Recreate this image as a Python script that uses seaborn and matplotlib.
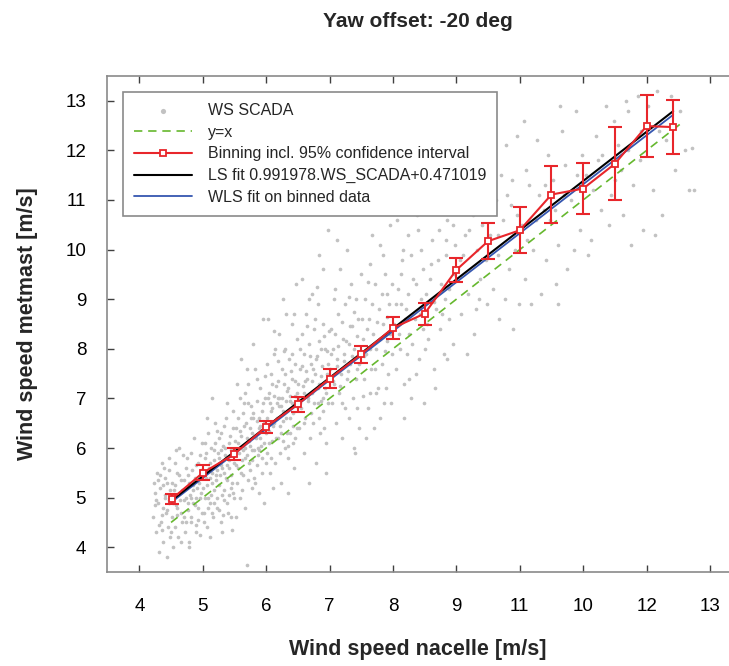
import numpy as np
import pandas as pd
import seaborn as sns
import matplotlib
matplotlib.use("Agg")
import matplotlib.pyplot as plt

# SCADA samples (nacelle ws, metmast ws)
scada_points = [
    (4.22, 4.6), (4.25, 5.1), (4.27, 4.3), (4.28, 5.5), (4.30, 4.9), (4.31, 3.9), (4.33, 5.2), (4.34, 4.5),
    (4.36, 5.7), (4.37, 4.8), (4.38, 4.1), (4.40, 5.0), (4.41, 5.4), (4.42, 4.7), (4.43, 3.8), (4.44, 5.3),
    (4.45, 4.4), (4.46, 5.8), (4.47, 4.95), (4.48, 4.2), (4.49, 5.15), (4.24, 4.85), (4.29, 5.35), (4.35, 4.65),
    (4.39, 5.6), (4.26, 4.95), (4.32, 5.45), (4.36, 4.35), (4.41, 5.05), (4.44, 4.75), (4.47, 5.55),
    (4.23, 5.3), (4.31, 4.45), (4.38, 5.25), (4.46, 4.9),
    (4.51, 4.6), (4.52, 5.3), (4.53, 4.0), (4.55, 5.0), (4.56, 5.7), (4.57, 4.4), (4.58, 4.85), (4.60, 5.5),
    (4.61, 4.2), (4.62, 6.0), (4.63, 5.1), (4.65, 4.7), (4.66, 5.35), (4.68, 4.5), (4.69, 5.85), (4.70, 4.95),
    (4.72, 4.3), (4.73, 5.6), (4.74, 5.2), (4.76, 4.75), (4.77, 5.45), (4.78, 4.1), (4.80, 5.05), (4.81, 5.9),
    (4.82, 4.6), (4.84, 5.25), (4.85, 4.9), (4.86, 6.2), (4.88, 5.4), (4.89, 4.45), (4.90, 5.0), (4.92, 5.7),
    (4.93, 4.8), (4.94, 5.3), (4.96, 4.25), (4.97, 5.55), (4.98, 5.1), (4.99, 6.1), (4.54, 5.15), (4.79, 4.0),
    (4.50, 4.3), (4.53, 4.9), (4.56, 5.25), (4.59, 4.65), (4.62, 5.45), (4.64, 4.95), (4.67, 5.15),
    (4.70, 5.35), (4.71, 4.6), (4.73, 5.0), (4.75, 5.8), (4.77, 4.9), (4.79, 5.3), (4.81, 4.5), (4.83, 5.55),
    (4.85, 5.15), (4.87, 4.85), (4.89, 5.65), (4.91, 5.2), (4.93, 4.55), (4.95, 5.0), (4.97, 5.4),
    (4.99, 4.7), (4.58, 5.95), (4.66, 4.1), (4.74, 4.5), (4.82, 5.0), (4.90, 4.3), (4.96, 5.85), (4.60, 4.8),
    (5.01, 5.2), (5.02, 4.7), (5.04, 5.8), (5.05, 5.4), (5.06, 4.4), (5.08, 6.3), (5.09, 5.0), (5.10, 5.6),
    (5.12, 4.9), (5.13, 6.0), (5.14, 5.3), (5.16, 4.6), (5.17, 5.75), (5.18, 5.15), (5.20, 6.5), (5.21, 5.45),
    (5.22, 4.8), (5.24, 5.9), (5.25, 5.25), (5.26, 6.2), (5.28, 4.5), (5.29, 5.65), (5.30, 5.05), (5.32, 6.05),
    (5.33, 5.5), (5.34, 4.95), (5.36, 5.8), (5.37, 6.6), (5.38, 5.35), (5.40, 4.7), (5.41, 6.1), (5.42, 5.6),
    (5.44, 5.2), (5.45, 5.95), (5.46, 4.35), (5.48, 6.4), (5.49, 5.7), (5.03, 6.1), (5.11, 4.2), (5.23, 5.55),
    (5.31, 4.3), (5.39, 6.9), (5.47, 5.1), (5.15, 7.0), (5.35, 5.85),
    (5.01, 5.5), (5.03, 5.0), (5.05, 5.9), (5.07, 5.25), (5.09, 4.8), (5.11, 5.7), (5.13, 5.05), (5.15, 5.5),
    (5.17, 4.9), (5.19, 6.1), (5.21, 5.35), (5.23, 5.0), (5.25, 5.8), (5.27, 5.45), (5.29, 6.3), (5.31, 5.6),
    (5.33, 5.15), (5.35, 6.0), (5.37, 5.4), (5.39, 4.9), (5.41, 5.75), (5.43, 6.25), (5.45, 5.45),
    (5.47, 5.9), (5.49, 5.0), (5.02, 4.5), (5.06, 6.6), (5.14, 4.7), (5.18, 5.95), (5.26, 4.75), (5.34, 6.45),
    (5.42, 5.05), (5.48, 6.75), (5.12, 5.4), (5.28, 5.95), (5.38, 5.65), (5.44, 4.6), (5.22, 6.35),
    (5.32, 4.65), (5.46, 5.3),
    (5.51, 5.9), (5.52, 6.4), (5.54, 5.3), (5.55, 6.1), (5.56, 5.6), (5.58, 7.0), (5.59, 5.0), (5.60, 6.25),
    (5.62, 5.75), (5.63, 6.7), (5.64, 5.45), (5.66, 6.0), (5.67, 4.8), (5.68, 6.5), (5.69, 3.65), (5.70, 5.85),
    (5.72, 7.3), (5.73, 6.15), (5.74, 5.55), (5.76, 6.85), (5.77, 6.3), (5.78, 5.2), (5.80, 6.6), (5.81, 5.95),
    (5.82, 7.6), (5.84, 6.2), (5.85, 5.65), (5.86, 6.95), (5.88, 6.4), (5.89, 5.1), (5.90, 7.2), (5.92, 6.05),
    (5.93, 6.75), (5.94, 5.8), (5.96, 6.5), (5.97, 4.9), (5.98, 7.45), (5.99, 6.3), (5.53, 4.6), (5.61, 7.8),
    (5.71, 5.35), (5.79, 8.1), (5.87, 6.0), (5.95, 8.6), (5.65, 6.9),
    (5.51, 6.15), (5.53, 5.65), (5.55, 6.6), (5.57, 5.9), (5.59, 6.35), (5.61, 5.5), (5.63, 6.05),
    (5.65, 6.45), (5.67, 5.8), (5.69, 6.2), (5.71, 6.9), (5.73, 5.7), (5.75, 6.4), (5.77, 5.95), (5.79, 6.7),
    (5.81, 5.4), (5.83, 6.25), (5.85, 6.55), (5.87, 5.85), (5.89, 6.6), (5.91, 6.2), (5.93, 5.5), (5.95, 6.9),
    (5.97, 6.1), (5.99, 5.7), (5.54, 7.3), (5.62, 5.15), (5.70, 7.6), (5.78, 5.75), (5.86, 7.4), (5.94, 6.35),
    (5.58, 6.0), (5.66, 7.1), (5.74, 6.05), (5.82, 5.3), (5.90, 6.45), (5.98, 7.0), (5.64, 5.95), (5.76, 6.6),
    (5.88, 5.95),
    (6.01, 6.6), (6.02, 5.9), (6.04, 7.1), (6.05, 6.35), (6.06, 5.5), (6.08, 7.5), (6.09, 6.8), (6.10, 6.15),
    (6.12, 7.9), (6.13, 6.5), (6.14, 5.7), (6.16, 7.25), (6.17, 6.9), (6.18, 6.2), (6.20, 8.3), (6.21, 7.0),
    (6.22, 6.45), (6.24, 5.3), (6.25, 7.6), (6.26, 6.75), (6.28, 7.3), (6.29, 6.0), (6.30, 8.0), (6.32, 6.6),
    (6.33, 7.15), (6.34, 5.8), (6.36, 7.8), (6.37, 6.95), (6.38, 6.3), (6.40, 8.5), (6.41, 7.4), (6.42, 6.7),
    (6.44, 5.6), (6.45, 7.05), (6.46, 7.7), (6.48, 6.4), (6.49, 8.2), (6.03, 8.6), (6.11, 5.2), (6.19, 7.75),
    (6.27, 9.0), (6.35, 5.1), (6.43, 6.1), (6.23, 6.85), (6.47, 9.3),
    (6.01, 6.4), (6.03, 7.0), (6.05, 6.1), (6.07, 6.75), (6.09, 7.3), (6.11, 6.45), (6.13, 7.05), (6.15, 6.2),
    (6.17, 6.6), (6.19, 7.35), (6.21, 6.85), (6.23, 6.3), (6.25, 7.0), (6.27, 6.55), (6.29, 7.5), (6.31, 6.95),
    (6.33, 6.3), (6.35, 7.2), (6.37, 6.6), (6.39, 7.55), (6.41, 6.9), (6.43, 6.45), (6.45, 7.35), (6.47, 6.85),
    (6.49, 7.1), (6.02, 7.7), (6.08, 5.8), (6.14, 8.0), (6.22, 5.9), (6.28, 7.95), (6.34, 6.05), (6.40, 7.9),
    (6.46, 6.2), (6.06, 6.9), (6.18, 7.0), (6.26, 6.15), (6.38, 7.05), (6.44, 8.7), (6.12, 8.35), (6.32, 8.7),
    (6.51, 7.0), (6.52, 6.4), (6.54, 7.6), (6.55, 6.8), (6.56, 8.3), (6.58, 7.25), (6.59, 5.9), (6.60, 7.9),
    (6.62, 6.6), (6.63, 8.7), (6.64, 7.4), (6.66, 6.95), (6.68, 8.1), (6.69, 6.2), (6.70, 7.7), (6.72, 7.1),
    (6.73, 9.1), (6.74, 6.5), (6.76, 8.4), (6.77, 7.5), (6.78, 5.7), (6.80, 7.85), (6.81, 6.9), (6.82, 8.9),
    (6.84, 7.3), (6.85, 6.3), (6.86, 8.0), (6.88, 7.65), (6.89, 9.6), (6.90, 6.75), (6.92, 8.25), (6.93, 7.2),
    (6.94, 5.5), (6.96, 7.95), (6.97, 10.4), (6.98, 6.9), (6.57, 9.4), (6.67, 5.3), (6.83, 9.9), (6.95, 6.1),
    (6.51, 7.3), (6.54, 6.9), (6.57, 7.65), (6.60, 7.1), (6.63, 7.55), (6.66, 7.0), (6.69, 7.85), (6.72, 7.35),
    (6.75, 6.9), (6.78, 7.8), (6.81, 7.2), (6.84, 8.15), (6.87, 7.45), (6.90, 7.0), (6.93, 8.0), (6.96, 7.5),
    (6.99, 8.35), (6.53, 8.0), (6.59, 6.5), (6.65, 8.45), (6.71, 6.7), (6.77, 8.6), (6.83, 6.6), (6.89, 8.5),
    (6.95, 7.1), (6.62, 7.35), (6.74, 7.6), (6.86, 6.95), (6.98, 7.7), (6.68, 9.0), (6.80, 9.25), (6.92, 6.4),
    (7.01, 7.6), (7.03, 8.4), (7.04, 6.9), (7.06, 8.0), (7.07, 7.3), (7.09, 9.2), (7.10, 6.5), (7.12, 7.8),
    (7.13, 8.7), (7.15, 7.1), (7.16, 9.6), (7.18, 7.5), (7.19, 6.2), (7.21, 8.2), (7.22, 7.9), (7.24, 6.8),
    (7.25, 8.9), (7.27, 7.4), (7.28, 10.0), (7.30, 8.1), (7.31, 6.6), (7.33, 7.7), (7.34, 9.3), (7.36, 8.45),
    (7.37, 7.0), (7.39, 8.0), (7.40, 5.9), (7.42, 9.0), (7.43, 7.6), (7.45, 8.6), (7.46, 6.4), (7.48, 7.95),
    (7.49, 9.5), (7.11, 10.2), (7.38, 6.0),
    (7.02, 7.9), (7.05, 7.35), (7.08, 8.3), (7.11, 7.65), (7.14, 8.05), (7.17, 7.25), (7.20, 8.55),
    (7.23, 7.75), (7.26, 8.15), (7.29, 7.55), (7.32, 8.45), (7.35, 7.85), (7.38, 8.75), (7.41, 7.4),
    (7.44, 8.25), (7.47, 7.7), (7.07, 9.0), (7.19, 6.9), (7.31, 9.05), (7.43, 6.8),
    (7.52, 8.2), (7.54, 7.4), (7.56, 9.0), (7.58, 7.9), (7.60, 6.8), (7.62, 8.6), (7.64, 9.7), (7.66, 7.6),
    (7.68, 8.3), (7.70, 6.4), (7.72, 9.3), (7.74, 8.0), (7.76, 7.2), (7.78, 8.8), (7.80, 10.1), (7.82, 7.7),
    (7.84, 8.5), (7.86, 6.9), (7.88, 9.5), (7.90, 8.15), (7.92, 7.5), (7.94, 8.9), (7.96, 10.5), (7.98, 7.9),
    (7.57, 6.2), (7.67, 10.3), (7.79, 6.6), (7.91, 9.1), (7.63, 7.1), (7.85, 9.9),
    (7.51, 8.6), (7.55, 7.85), (7.59, 8.4), (7.63, 8.0), (7.67, 8.9), (7.71, 7.6), (7.75, 8.55), (7.79, 8.2),
    (7.83, 9.1), (7.87, 7.95), (7.91, 8.65), (7.95, 8.3), (7.99, 9.3), (7.61, 9.35), (7.73, 7.1), (7.89, 7.2),
    (7.53, 7.05), (7.97, 6.9),
    (8.02, 8.5), (8.05, 7.6), (8.08, 9.2), (8.11, 8.0), (8.14, 9.8), (8.17, 7.3), (8.20, 8.8), (8.23, 10.3),
    (8.26, 8.3), (8.29, 7.0), (8.32, 9.4), (8.35, 8.6), (8.38, 10.7), (8.41, 7.8), (8.44, 9.0), (8.47, 8.4),
    (8.49, 6.9), (8.07, 10.6), (8.18, 6.6), (8.28, 9.9), (8.37, 7.5), (8.45, 10.0), (8.12, 8.9), (8.33, 11.0),
    (8.22, 7.9), (8.04, 8.9), (8.09, 8.3), (8.13, 9.5), (8.19, 8.6), (8.24, 9.1), (8.30, 8.1), (8.36, 9.3),
    (8.42, 8.7), (8.48, 9.6), (8.16, 10.0), (8.40, 10.4), (8.26, 7.4),
    (8.52, 9.1), (8.56, 8.2), (8.60, 9.7), (8.64, 7.6), (8.68, 8.8), (8.72, 10.4), (8.76, 9.3), (8.80, 7.9),
    (8.84, 9.9), (8.88, 8.6), (8.92, 11.1), (8.96, 9.5), (8.58, 10.9), (8.66, 7.2), (8.74, 8.4), (8.86, 10.6),
    (8.94, 8.1), (8.54, 11.3), (8.82, 9.0), (8.98, 10.1), (8.53, 8.5), (8.59, 9.4), (8.65, 8.95),
    (8.71, 9.8), (8.77, 8.7), (8.83, 10.2), (8.89, 9.2), (8.95, 10.5), (8.62, 10.2), (8.86, 7.8), (8.50, 8.0),
    (8.79, 11.0),
    (9.03, 9.6), (9.08, 8.7), (9.13, 10.3), (9.18, 9.1), (9.23, 11.2), (9.28, 8.3), (9.33, 10.0), (9.38, 9.4),
    (9.43, 11.6), (9.48, 8.9), (9.06, 11.0), (9.16, 7.9), (9.26, 10.7), (9.36, 12.0), (9.46, 9.8), (9.11, 9.9),
    (9.31, 8.8), (9.41, 10.5), (9.05, 9.8), (9.20, 10.4), (9.35, 9.0), (9.15, 12.2),
    (9.53, 10.3), (9.58, 9.2), (9.63, 11.0), (9.68, 8.6), (9.73, 10.6), (9.78, 12.1), (9.83, 9.6), (9.88, 11.4),
    (9.93, 10.0), (9.98, 8.9), (9.56, 11.8), (9.66, 9.9), (9.76, 9.0), (9.86, 10.9), (9.96, 12.3), (9.71, 11.5),
    (9.50, 10.8), (9.65, 10.3), (9.80, 11.1), (9.95, 10.7), (9.90, 8.4),
    (10.03, 10.5), (10.09, 9.4), (10.15, 11.3), (10.21, 10.0), (10.27, 12.2), (10.33, 9.1), (10.39, 10.8),
    (10.45, 11.9), (10.06, 12.6), (10.18, 8.9), (10.30, 11.1), (10.42, 9.8), (10.12, 10.2), (10.48, 10.6),
    (10.10, 11.6), (10.25, 10.6), (10.40, 11.3),
    (10.53, 11.4), (10.60, 10.1), (10.67, 12.4), (10.74, 9.6), (10.81, 11.0), (10.88, 12.8), (10.95, 10.4),
    (10.57, 9.3), (10.71, 11.7), (10.85, 10.0), (10.98, 11.9), (10.64, 12.9), (10.55, 10.8), (10.70, 11.1),
    (10.90, 11.5), (10.60, 8.9),
    (11.04, 11.5), (11.12, 10.2), (11.20, 12.3), (11.28, 10.8), (11.36, 12.9), (11.44, 11.1), (11.08, 9.9),
    (11.24, 11.8), (11.40, 10.5), (11.48, 12.6), (11.15, 11.2), (11.30, 11.9),
    (11.55, 12.1), (11.63, 10.7), (11.71, 12.8), (11.79, 11.3), (11.87, 13.1), (11.95, 10.4), (11.59, 11.6),
    (11.75, 10.1), (11.91, 12.4), (11.67, 13.0), (11.50, 11.4), (11.70, 12.0), (11.90, 11.8),
    (12.03, 12.9), (12.10, 11.2), (12.17, 13.2), (12.24, 10.7), (12.31, 12.2), (12.38, 13.1), (12.45, 11.6),
    (12.52, 12.8), (12.60, 12.0), (12.67, 11.2), (12.72, 12.05), (12.14, 10.3), (12.20, 12.4), (12.40, 12.5),
    (12.75, 11.2),
]

# binned means with 95% confidence half-widths
bin_ws = [4.51, 5.0, 5.5, 6.0, 6.5, 7.0, 7.5, 8.0, 8.5, 9.0, 9.5, 10.0, 10.5, 11.0, 11.5, 12.0, 12.42]
bin_mean = [4.97, 5.50, 5.88, 6.43, 6.88, 7.40, 7.89, 8.42, 8.71, 9.59, 10.17, 10.39, 11.11, 11.23, 11.73, 12.49, 12.47]
bin_ci = [0.10, 0.15, 0.12, 0.12, 0.15, 0.19, 0.17, 0.23, 0.22, 0.24, 0.36, 0.46, 0.57, 0.52, 0.74, 0.63, 0.55]

# fit coefficients (LS from the legend, WLS)
ls_slope, ls_offset = 0.991978, 0.471019
wls_slope, wls_offset = 0.987, 0.46
identity_range = [4.5, 12.55]

x_ticks = [4, 5, 6, 7, 8, 9, 10, 11, 12, 13]
x_tick_labels = ["4", "5", "6", "7", "8", "9", "11", "10", "12", "13"]
y_ticks = [4, 5, 6, 7, 8, 9, 10, 11, 12, 13]

scada = pd.DataFrame(scada_points, columns=["ws_nacelle", "ws_metmast"])
bins = pd.DataFrame({"ws": bin_ws, "mean": bin_mean, "ci": bin_ci})

fit_x = np.array([bin_ws[0], bin_ws[-1]])

sns.set_theme(style="ticks")
plt.rcParams["font.family"] = ["Liberation Sans", "DejaVu Sans"]

red = "#e8262b"
fig = plt.figure(figsize=(7.29, 6.66), dpi=100)
ax = fig.add_axes([0.1468, 0.1411, 0.8532, 0.7448])

sns.scatterplot(data=scada, x="ws_nacelle", y="ws_metmast", ax=ax, color="#c2c2c2",
                s=7, linewidth=0, label="WS SCADA", zorder=1)
sns.lineplot(x=identity_range, y=identity_range, ax=ax, color="#66b82e", lw=1.2,
             dashes=(5, 3.5), label="y=x", zorder=2)
ax.errorbar(bins["ws"], bins["mean"], yerr=bins["ci"], fmt="none", ecolor=red,
            elinewidth=1.5, capsize=5, capthick=1.5, zorder=4)
sns.lineplot(data=bins, x="ws", y="mean", ax=ax, color=red, lw=1.5, marker="s",
             markersize=5, markerfacecolor="white", markeredgecolor=red, markeredgewidth=1.3,
             label="Binning incl. 95% confidence interval", zorder=5)
sns.lineplot(x=fit_x, y=ls_slope * fit_x + ls_offset, ax=ax, color="black", lw=1.5,
             label=f"LS fit {ls_slope:.6f}.WS_SCADA+{ls_offset:.6f}", zorder=3.5)
sns.lineplot(x=fit_x, y=wls_slope * fit_x + wls_offset, ax=ax, color="#3556b0", lw=1.3,
             label="WLS fit on binned data", zorder=3)

ax.set_xlim(3.49, 13.30)
ax.set_ylim(3.5, 13.5)
ax.set_xticks(x_ticks)
ax.set_xticklabels(x_tick_labels)
ax.set_yticks(y_ticks)
ax.tick_params(axis="both", direction="in", length=5, width=1, color="#404040",
               labelsize=13.5, labelcolor="black")
ax.tick_params(axis="x", top=True, pad=19)
ax.tick_params(axis="y", pad=15)
for side in ["left", "bottom", "top"]:
    ax.spines[side].set_color("#8a8a8a")
    ax.spines[side].set_linewidth(1.2)
ax.spines["right"].set_visible(False)

ax.set_xlabel("Wind speed nacelle [m/s]", fontsize=15.5, fontweight="bold", labelpad=17)
ax.set_ylabel("Wind speed metmast [m/s]", fontsize=15.5, fontweight="bold", labelpad=20)
ax.set_title("Yaw offset: -20 deg", fontsize=15, fontweight="bold", pad=35)

leg = ax.legend(loc="upper left", bbox_to_anchor=(0.026, 0.968), borderaxespad=0,
                fontsize=11.5, handlelength=3.6, handletextpad=1.0, labelspacing=0.42,
                borderpad=0.7, fancybox=False, framealpha=1, edgecolor="#8a8a8a")
leg.get_frame().set_linewidth(1.2)
leg.legend_handles[0].set_sizes([14])

fig.savefig("out.png", dpi=100)
